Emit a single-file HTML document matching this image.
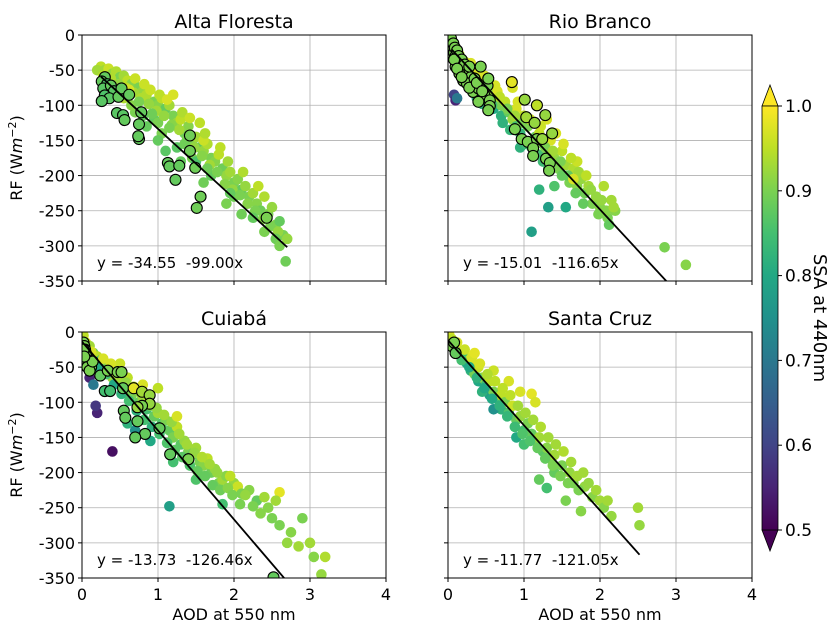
<!DOCTYPE html>
<html><head><meta charset="utf-8"><style>
body{margin:0;background:#fff;}
svg{display:block;font-family:"DejaVu Sans","Liberation Sans",sans-serif;}
</style></head><body>
<svg id="fig" width="838" height="630" viewBox="0 0 838 630">
<defs>
<linearGradient id="cbg" x1="0" y1="1" x2="0" y2="0">
<stop offset="0" stop-color="#440154"/><stop offset="0.1" stop-color="#482475"/><stop offset="0.2" stop-color="#414487"/><stop offset="0.3" stop-color="#355f8d"/><stop offset="0.4" stop-color="#2a788e"/><stop offset="0.5" stop-color="#21918c"/><stop offset="0.6" stop-color="#22a884"/><stop offset="0.7" stop-color="#44bf70"/><stop offset="0.8" stop-color="#7ad151"/><stop offset="0.9" stop-color="#bddf26"/><stop offset="1" stop-color="#fde725"/>
</linearGradient>
</defs>
</svg>
<script>
const xTicks=[0,1,2,3,4];
const yTicks=[0,-50,-100,-150,-200,-250,-300,-350];
const cbTicks=[0.5,0.6,0.7,0.8,0.9,1.0];
const titles=["Alta Floresta","Rio Branco","Cuiabá","Santa Cruz"];
const intercepts=[-34.55,-15.01,-13.73,-11.77];
const slopes=[-99.00,-116.65,-126.46,-121.05];
const lineStart=[0.25,0.05,0.0,0.0];
const lineEnd=[2.7,3.0,3.0,2.52];
const altaPoints=[[0.25,-45,.95],[0.3,-50,.93],[0.35,-48,.96],[0.4,-55,.92],[0.45,-52,.94],[0.5,-60,.9],[0.55,-58,.93],[0.6,-65,.95],[0.65,-70,.91],[0.7,-62,.96],[0.75,-75,.9],[0.8,-80,.92],[0.85,-85,.94],[0.9,-78,.96],[0.95,-95,.9],[1.0,-100,.91],[1.05,-90,.95],[1.1,-105,.88],[1.15,-100,.93],[1.2,-115,.9],[1.25,-125,.92],[1.3,-120,.95],[1.35,-140,.89],[1.4,-130,.91],[1.45,-150,.9],[1.5,-145,.93],[1.55,-160,.88],[1.6,-165,.92],[1.65,-155,.94],[1.7,-175,.9],[1.75,-180,.91],[1.8,-170,.95],[1.85,-190,.89],[1.9,-200,.92],[1.95,-195,.93],[2.0,-210,.9],[2.05,-205,.91],[2.1,-220,.88],[2.15,-215,.92],[2.2,-230,.9],[2.25,-225,.93],[2.3,-240,.91],[2.35,-250,.89],[2.4,-230,.94],[2.45,-255,.9],[2.5,-245,.92],[2.55,-270,.91],[2.6,-265,.88],[2.65,-285,.9],[2.7,-290,.92],[2.68,-322,.89],[1.2,-85,.97],[0.95,-120,.88],[0.7,-110,.9],[0.85,-130,.88],[1.05,-140,.9],[1.25,-160,.87],[1.45,-175,.9],[1.55,-125,.95],[1.7,-200,.88],[0.55,-90,.94],[0.4,-85,.93],[1.5,-180,.86],[1.0,-125,.9],[2.0,-230,.89],[0.65,-100,.91],[1.6,-150,.96],[0.3,-70,.9],
[0.2,-50,.93],[0.28,-58,.95],[0.38,-62,.94],[0.48,-70,.92],[0.58,-75,.95],[0.68,-82,.93],[0.78,-90,.94],[0.88,-98,.92],[0.98,-108,.93],[1.08,-115,.92],[1.18,-128,.91],[1.28,-135,.93],[1.38,-150,.9],[1.48,-160,.92],[1.58,-172,.91],[1.68,-185,.93],[1.78,-195,.9],[1.88,-212,.91],[1.98,-220,.92],[2.08,-228,.9],[2.18,-240,.91],[2.28,-250,.9],[2.38,-262,.91],[2.48,-272,.9],[2.58,-280,.92],[0.62,-78,.97],[0.82,-70,.96],[1.02,-85,.95],[1.12,-92,.97],[1.32,-110,.94],[1.42,-118,.96],[1.62,-140,.94],[1.82,-160,.95],[1.92,-180,.93],[2.12,-195,.94],[2.32,-215,.95],[0.5,-80,.9],[0.75,-95,.9],[0.92,-112,.89],[1.15,-132,.9],[1.35,-155,.89],[1.65,-190,.89],[1.95,-225,.88],[2.25,-260,.88],[2.55,-290,.89],
[1.0,-150,.88],[1.1,-165,.87],[1.3,-180,.88],[1.6,-210,.89],[1.9,-240,.9],[2.1,-255,.89],[2.4,-280,.9],[2.6,-300,.9],[0.8,-115,.88]];
const altaCircled=[[0.3,-60,.88],[0.26,-66,.88],[0.33,-70,.86],[0.28,-76,.87],[0.38,-72,.88],[0.42,-80,.87],[0.3,-86,.86],[0.36,-90,.87],[0.48,-88,.88],[0.52,-76,.88],[0.26,-94,.87],[0.62,-85,.88],[0.78,-110,.88],[0.46,-111,.87],[0.54,-114,.87],[0.56,-121,.88],[0.75,-127,.88],[0.75,-148,.88],[0.74,-144,.88],[1.42,-143,.89],[1.42,-165,.89],[1.13,-182,.88],[1.15,-187,.88],[1.28,-186,.88],[1.49,-189,.89],[1.23,-206,.88],[1.56,-230,.89],[1.51,-246,.89],[2.43,-260,.9]];
const rioPoints=[[0.02,-8,.95],[0.05,-12,.97],[0.08,-20,.95],[0.1,-25,.9],[0.12,-30,.93],[0.15,-35,.88],[0.18,-40,.85],[0.2,-45,.9],[0.25,-50,.92],[0.3,-55,.8],[0.3,-65,.95],[0.35,-70,.85],[0.4,-60,.96],[0.4,-80,.82],[0.45,-75,.9],[0.5,-85,.78],[0.5,-95,.85],[0.55,-70,.95],[0.6,-90,.88],[0.6,-105,.8],[0.65,-80,.97],[0.7,-100,.9],[0.7,-115,.82],[0.75,-95,.95],[0.8,-110,.88],[0.85,-120,.92],[0.9,-105,.97],[0.9,-130,.85],[0.95,-140,.83],[1.0,-115,.95],[1.0,-150,.86],[1.05,-130,.9],[1.1,-160,.84],[1.15,-145,.88],[1.2,-140,.95],[1.25,-155,.9],[1.3,-170,.88],[1.35,-150,.97],[1.4,-175,.92],[1.45,-190,.9],[1.5,-165,.95],[1.5,-200,.88],[1.55,-185,.93],[1.6,-210,.9],[1.65,-190,.94],[1.7,-215,.91],[1.75,-205,.92],[1.8,-225,.89],[1.85,-215,.93],[1.9,-240,.9],[1.95,-230,.92],[2.0,-245,.91],[2.05,-215,.94],[2.1,-260,.9],[2.15,-235,.93],[2.2,-250,.91],[1.55,-245,.8],[1.2,-220,.82],[1.25,-180,.84],[0.95,-160,.82],[1.1,-280,.78],[0.08,-85,.6],[0.1,-93,.55],[0.12,-90,.7],[0.2,-65,.75],[2.85,-302,.9],[3.13,-327,.91],[1.4,-215,.86],[1.7,-180,.96],[0.3,-40,.97],[0.5,-60,.96],[1.3,-120,.97],[0.85,-75,.97],
[0.05,-25,.9],[0.1,-18,.97],[0.15,-28,.95],[0.18,-55,.85],[0.22,-38,.96],[0.25,-62,.82],[0.28,-48,.95],[0.35,-55,.97],[0.38,-90,.8],[0.42,-68,.93],[0.45,-98,.82],[0.48,-58,.97],[0.52,-80,.92],[0.58,-100,.85],[0.62,-72,.97],[0.68,-88,.95],[0.72,-125,.82],[0.78,-105,.9],[0.82,-135,.83],[0.88,-115,.93],[0.92,-95,.97],[0.98,-125,.9],[1.02,-155,.84],[1.08,-120,.96],[1.12,-150,.88],[1.18,-170,.85],[1.22,-130,.96],[1.28,-160,.9],[1.32,-190,.85],[1.38,-165,.93],[1.42,-140,.97],[1.48,-180,.9],[1.52,-155,.97],[1.58,-200,.88],[1.62,-175,.95],[1.68,-225,.88],[1.72,-195,.93],[1.78,-240,.88],[1.82,-200,.95],[1.88,-220,.92],[1.98,-255,.9],[2.02,-235,.92],[2.08,-250,.91],[2.12,-270,.88],[2.18,-245,.93],[1.32,-245,.78],[1.65,-205,.97]];
const rioCircled=[[0.03,-10,.93],[0.05,-15,.9],[0.06,-20,.9],[0.08,-25,.9],[0.1,-30,.9],[0.12,-35,.9],[0.15,-40,.9],[0.1,-45,.9],[0.2,-50,.9],[0.25,-55,.9],[0.15,-55,.9],[0.3,-60,.9],[0.2,-65,.9],[0.25,-69,.9],[0.33,-81,.9],[0.4,-76,.9],[0.43,-45,.9],[0.52,-72,.9],[0.53,-62,.9],[0.48,-86,.9],[0.55,-93,.9],[0.55,-101,.9],[0.53,-107,.9],[0.84,-67,.98],[1.01,-92,.92],[1.17,-100,.95],[1.28,-114,.92],[1.03,-117,.93],[1.14,-125,.92],[0.88,-134,.9],[1.37,-140,.92],[0.97,-148,.9],[1.05,-152,.9],[1.17,-148,.9],[1.24,-148,.92],[1.12,-161,.9],[1.12,-172,.9],[1.29,-176,.9],[1.34,-182,.9],[1.33,-193,.9],[0.04,-5,.9],[0.07,-12,.9],[0.09,-18,.9],[0.12,-22,.9],[0.14,-30,.9],[0.18,-35,.9],[0.08,-35,.9],[0.22,-42,.9],[0.12,-48,.9],[0.28,-45,.9],[0.18,-60,.9],[0.35,-62,.9],[0.28,-75,.9],[0.38,-68,.9],[0.45,-80,.9],[0.4,-95,.9]];
const cuiabaPoints=[[0.02,-5,.95],[0.05,-15,.97],[0.1,-20,.93],[0.15,-30,.9],[0.2,-35,.95],[0.25,-40,.85],[0.3,-45,.93],[0.35,-50,.9],[0.4,-55,.8],[0.4,-65,.92],[0.45,-60,.97],[0.5,-70,.88],[0.55,-75,.9],[0.6,-65,.95],[0.6,-85,.85],[0.65,-90,.9],[0.7,-80,.93],[0.75,-100,.88],[0.8,-95,.92],[0.85,-110,.85],[0.9,-105,.9],[0.95,-120,.88],[1.0,-115,.93],[1.05,-130,.86],[1.1,-125,.9],[1.15,-140,.88],[1.2,-150,.9],[1.25,-135,.95],[1.3,-160,.87],[1.35,-155,.92],[1.4,-170,.9],[1.45,-175,.88],[1.5,-165,.93],[1.55,-185,.9],[1.6,-190,.91],[1.65,-180,.95],[1.7,-200,.89],[1.75,-195,.92],[1.8,-215,.9],[1.85,-210,.93],[1.9,-205,.91],[2.0,-215,.92],[2.05,-220,.96],[2.1,-230,.9],[2.2,-225,.91],[2.3,-240,.88],[2.4,-235,.93],[2.45,-250,.91],[2.6,-228,.98],[2.6,-275,.9],[2.75,-285,.91],[2.85,-305,.93],[3.0,-300,.93],[3.2,-320,.94],[2.5,-265,.9],[1.85,-245,.85],[1.15,-248,.78],[0.9,-155,.8],[0.7,-140,.75],[0.4,-170,.52],[0.2,-115,.55],[0.18,-105,.58],[0.1,-65,.55],[0.15,-75,.7],[1.2,-185,.85],[1.5,-210,.86],[0.8,-75,.97],[1.0,-80,.95],[0.5,-45,.96],[0.6,-130,.82],[2.9,-265,.9],[3.15,-345,.92],
[0.05,-25,.9],[0.08,-35,.85],[0.12,-28,.97],[0.18,-45,.88],[0.22,-50,.8],[0.28,-38,.97],[0.32,-60,.85],[0.38,-45,.97],[0.42,-75,.8],[0.48,-65,.93],[0.52,-88,.82],[0.58,-72,.92],[0.62,-98,.85],[0.68,-78,.95],[0.72,-112,.82],[0.78,-88,.93],[0.82,-125,.85],[0.88,-98,.95],[0.92,-135,.82],[0.98,-108,.92],[1.02,-145,.85],[1.08,-118,.93],[1.12,-158,.86],[1.18,-128,.92],[1.22,-168,.87],[1.28,-145,.93],[1.32,-178,.87],[1.38,-160,.93],[1.42,-190,.86],[1.48,-172,.92],[1.52,-198,.88],[1.58,-178,.94],[1.62,-205,.88],[1.68,-188,.93],[1.72,-218,.88],[1.78,-200,.92],[1.82,-225,.89],[1.92,-222,.91],[1.98,-232,.9],[2.08,-245,.9],[2.15,-232,.92],[2.25,-248,.9],[2.35,-258,.91],[1.95,-205,.95],[1.25,-120,.97],[2.55,-240,.93],[2.7,-300,.92],[3.05,-320,.91]];
const cuiabaCircled=[[0.02,-15,.9],[0.03,-20,.9],[0.04,-25,.9],[0.05,-30,.9],[0.06,-35,.9],[0.08,-40,.9],[0.1,-45,.9],[0.12,-50,.9],[0.05,-40,.9],[0.02,-25,.9],[0.04,-45,.9],[0.07,-50,.9],[0.1,-55,.9],[0.14,-42,.9],[0.03,-35,.9],[0.24,-62,.88],[0.34,-55,.9],[0.47,-57,.9],[0.52,-57,.9],[0.3,-84,.85],[0.37,-84,.85],[0.54,-80,.88],[0.68,-80,.98],[0.79,-85,.93],[0.89,-90,.92],[0.89,-102,.92],[0.79,-105,.9],[0.73,-107,.92],[0.55,-112,.88],[0.57,-122,.88],[0.73,-127,.88],[0.83,-145,.88],[0.7,-150,.88],[1.02,-137,.88],[1.16,-174,.88],[1.4,-181,.9],[2.52,-349,.88]];
const santaPoints=[[0.02,-5,.97],[0.05,-15,.93],[0.1,-20,.9],[0.15,-30,.85],[0.2,-35,.95],[0.25,-45,.8],[0.3,-40,.97],[0.3,-55,.82],[0.35,-60,.9],[0.4,-50,.96],[0.4,-70,.8],[0.45,-65,.92],[0.5,-75,.85],[0.55,-70,.95],[0.55,-90,.78],[0.6,-85,.9],[0.65,-95,.85],[0.7,-90,.95],[0.7,-110,.82],[0.75,-100,.9],[0.8,-115,.86],[0.85,-105,.96],[0.9,-125,.88],[0.95,-120,.92],[1.0,-140,.85],[1.05,-130,.9],[1.1,-145,.88],[1.1,-88,.98],[1.15,-155,.9],[1.2,-150,.93],[1.25,-170,.87],[1.3,-165,.91],[1.35,-180,.9],[1.4,-175,.93],[1.5,-190,.9],[1.6,-200,.92],[1.65,-215,.9],[1.7,-205,.93],[1.8,-220,.92],[1.9,-235,.91],[2.0,-240,.93],[2.15,-262,.92],[1.3,-222,.85],[1.2,-210,.88],[1.75,-255,.91],[1.55,-240,.9],[2.5,-250,.93],[2.52,-275,.92],[0.9,-150,.8],[0.6,-110,.75],[0.45,-85,.82],[1.0,-160,.85],[1.4,-200,.88],[0.8,-70,.97],[0.6,-55,.96],[0.2,-28,.85],
[0.05,-10,.95],[0.08,-25,.88],[0.12,-15,.97],[0.18,-40,.85],[0.22,-25,.96],[0.28,-50,.8],[0.32,-35,.97],[0.38,-65,.82],[0.42,-45,.97],[0.48,-80,.8],[0.52,-60,.94],[0.58,-95,.8],[0.62,-70,.95],[0.68,-105,.82],[0.72,-80,.95],[0.78,-120,.83],[0.82,-90,.95],[0.88,-135,.84],[0.92,-105,.93],[0.98,-145,.86],[1.02,-115,.93],[1.08,-155,.86],[1.12,-125,.93],[1.18,-165,.88],[1.22,-135,.94],[1.28,-180,.88],[1.32,-150,.93],[1.38,-190,.9],[1.42,-160,.93],[1.48,-205,.9],[1.52,-170,.94],[1.58,-215,.9],[1.62,-185,.93],[1.72,-225,.9],[1.78,-200,.93],[1.85,-215,.92],[1.95,-225,.93],[2.05,-250,.91],[2.1,-240,.93],[1.15,-100,.97],[0.95,-85,.97],[0.35,-30,.98]];
const santaCircled=[[0.05,-20,.9],[0.1,-30,.88],[0.08,-15,.9]];

const NS="http://www.w3.org/2000/svg";
const svg=document.getElementById('fig');
const stops=[[68,1,84],[72,36,117],[65,68,135],[53,95,141],[42,120,142],[33,145,140],[34,168,132],[68,191,112],[122,209,81],[189,223,38],[253,231,37]];
function viridis(s){let t=Math.max(0,Math.min(1,(s-0.5)/0.5))*10;let i=Math.min(9,Math.floor(t));let f=t-i;const a=stops[i],b=stops[i+1];return `rgb(${a.map((v,k)=>Math.round(v+(b[k]-v)*f)).join(',')})`;}
function mk(tag,attrs,parent){const e=document.createElementNS(NS,tag);for(const k in attrs)e.setAttribute(k,attrs[k]);(parent||svg).appendChild(e);return e;}
const panels=[{x0:82,y0:35,pts:altaPoints,circ:altaCircled,name:'alta-floresta'},{x0:448,y0:35,pts:rioPoints,circ:rioCircled,name:'rio-branco'},{x0:82,y0:332,pts:cuiabaPoints,circ:cuiabaCircled,name:'cuiaba'},{x0:448,y0:332,pts:santaPoints,circ:santaCircled,name:'santa-cruz'}];
const W=304,H=246;
panels.forEach((p,i)=>{
  const sx=v=>p.x0+v/4*W, sy=v=>p.y0+(-v)/350*H;
  const g=mk('g',{});
  
  
  const cp=mk('clipPath',{id:'cp'+i},g);mk('rect',{x:p.x0,y:p.y0,width:W,height:H},cp);
  xTicks.forEach(t=>{const l=mk('line',{x1:sx(t),x2:sx(t),y1:p.y0,y2:p.y0+H,stroke:'#b0b0b0','stroke-width':0.8},g);
    
    mk('line',{x1:sx(t),x2:sx(t),y1:p.y0+H,y2:p.y0+H+4,stroke:'#000'},g);
    if(i>=2){const tx=mk('text',{x:sx(t),y:p.y0+H+22,'text-anchor':'middle','font-size':16},g);tx.textContent=t;
      }});
  yTicks.forEach(t=>{const l=mk('line',{x1:p.x0,x2:p.x0+W,y1:sy(t),y2:sy(t),stroke:'#b0b0b0','stroke-width':0.8},g);
    
    mk('line',{x1:p.x0-4,x2:p.x0,y1:sy(t),y2:sy(t),stroke:'#000'},g);
    if(i%2==0){const tx=mk('text',{x:p.x0-7,y:sy(t)+6,'text-anchor':'end','font-size':16},g);tx.textContent=t;
      }});
  const dg=mk('g',{'clip-path':'url(#cp'+i+')'},g);
  p.pts.forEach(d=>{const c=mk('circle',{cx:sx(d[0]),cy:sy(d[1]),r:5.3,fill:viridis(d[2])},dg);
    });
  p.circ.forEach(d=>{const c=mk('circle',{cx:sx(d[0]),cy:sy(d[1]),r:5.5,fill:viridis(d[2]),stroke:'#000','stroke-width':1.1},dg);
    });
  const a=intercepts[i],b=slopes[i];
  const ln=mk('line',{x1:sx(lineStart[i]),y1:sy(a+b*lineStart[i]),x2:sx(lineEnd[i]),y2:sy(a+b*lineEnd[i]),stroke:'#000','stroke-width':1.8},dg);
  
  const eq=mk('text',{x:p.x0+15,y:p.y0+H-13,'font-size':15,'xml:space':'preserve',style:'white-space:pre'},g);
  eq.textContent='y = '+a.toFixed(2)+'  '+b.toFixed(2)+'x';
  
  const fr=mk('rect',{x:p.x0,y:p.y0,width:W,height:H,fill:'none',stroke:'#000','stroke-width':1},g);
  
  const ti=mk('text',{x:p.x0+W/2,y:p.y0-7,'text-anchor':'middle','font-size':19},g);ti.textContent=titles[i];
  
  if(i>=2){const xl=mk('text',{x:p.x0+W/2,y:p.y0+H+42,'text-anchor':'middle','font-size':16},g);xl.textContent='AOD at 550 nm';
    }
  if(i%2==0){const cy=p.y0+H/2;const yl=mk('text',{x:22,y:cy,'text-anchor':'middle','font-size':16,transform:`rotate(-90 22 ${cy})`},g);
    yl.innerHTML='RF (W<tspan font-style="italic">m</tspan><tspan baseline-shift="super" font-size="11">−2</tspan>)';
    }
});
const cb=mk('g',{});


const cx0=762,cw=16,ctop=106,cbot=530;
mk('polygon',{points:`${cx0},${ctop} ${cx0+cw/2},85 ${cx0+cw},${ctop}`,fill:'#fde725',stroke:'#000','stroke-width':0.8},cb);
mk('polygon',{points:`${cx0},${cbot} ${cx0+cw/2},551 ${cx0+cw},${cbot}`,fill:'#440154',stroke:'#000','stroke-width':0.8},cb);
mk('rect',{x:cx0,y:ctop,width:cw,height:cbot-ctop,fill:'url(#cbg)',stroke:'#000','stroke-width':0.8},cb);
cbTicks.forEach(t=>{const y=cbot-(t-0.5)/0.5*(cbot-ctop);
  mk('line',{x1:cx0+cw,x2:cx0+cw+4,y1:y,y2:y,stroke:'#000'},cb);
  const tx=mk('text',{x:cx0+cw+7,y:y+6,'font-size':17},cb);tx.textContent=t.toFixed(1);
  });
const cl=mk('text',{x:814,y:318,'text-anchor':'middle','font-size':18,transform:'rotate(90 814 318)'},cb);
cl.textContent='SSA at 440nm';


</script>
</body></html>
